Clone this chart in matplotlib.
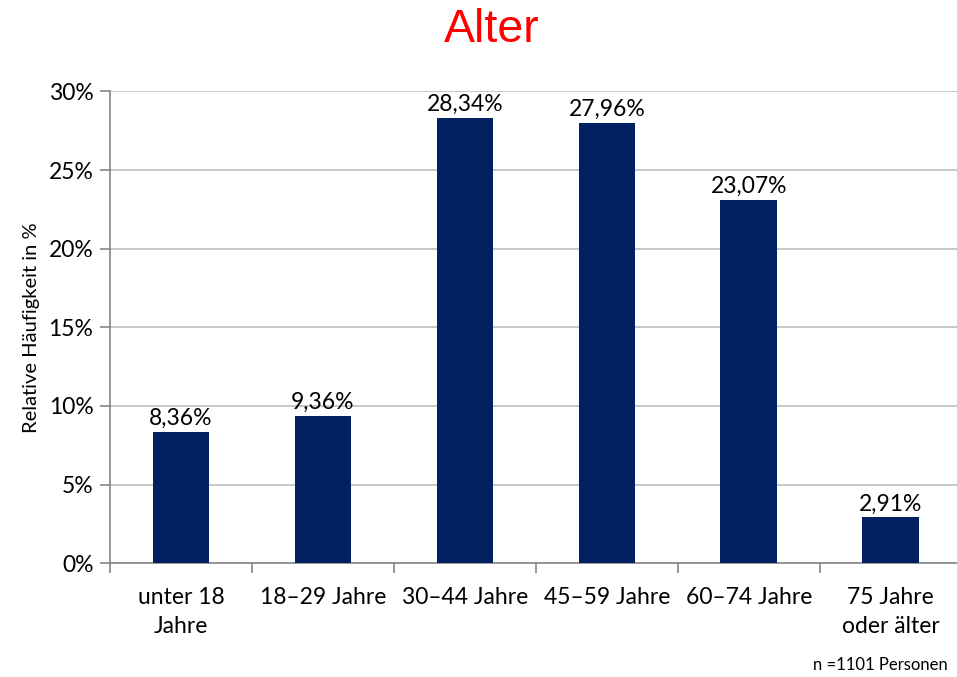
import numpy as np
import matplotlib.pyplot as plt
from matplotlib.ticker import PercentFormatter

categories = ["unter 18\nJahre", "18–29 Jahre", "30–44 Jahre", "45–59 Jahre", "60–74 Jahre", "75 Jahre\noder älter"]
values = [8.36, 9.36, 28.34, 27.96, 23.07, 2.91]
labels = ["8,36%", "9,36%", "28,34%", "27,96%", "23,07%", "2,91%"]

plt.rcParams['font.family'] = ['Lato', 'DejaVu Sans']

fig = plt.figure(figsize=(9.57, 6.77), dpi=100)
ax = fig.add_axes([0.115, 0.168, 0.890, 0.697])

x = np.arange(len(categories))
ax.bar(x, values, width=0.4, color="#002060", zorder=3)
for xi, v, lab in zip(x, values, labels):
    ax.text(xi, v + 0.2, lab, ha="center", va="bottom", fontsize=16.5)

ax.set_xlim(-0.5, len(categories) - 0.5)
ax.set_ylim(0, 30)
ax.set_yticks(np.arange(0, 31, 5))
ax.yaxis.set_major_formatter(PercentFormatter(decimals=0))
ax.set_xticks(x)
ax.set_xticklabels(categories, fontsize=16.5, linespacing=1.5)
ax.set_xticks(np.arange(-0.5, len(categories), 1), minor=True)
ax.tick_params(axis="x", which="major", length=0, pad=17)
ax.tick_params(axis="x", which="minor", length=7, color="#868686", width=1.2)
ax.tick_params(axis="y", labelsize=16.5, length=7, color="#868686", width=1.2, pad=5)
ax.grid(axis="y", color="#BFBFBF", linewidth=1.2, zorder=0)

for s in ["top", "right"]:
    ax.spines[s].set_visible(False)
for s in ["left", "bottom"]:
    ax.spines[s].set_color("#868686")
    ax.spines[s].set_linewidth(1.2)

ax.set_ylabel("Relative Häufigkeit in %", fontsize=14.5, labelpad=6)
fig.text(0.514, 0.955, "Alter", color="#FF0000", fontsize=33.5,
         ha="center", va="center", family="Liberation Sans")
fig.text(0.99, 0.006, "n =1101 Personen", fontsize=12, ha="right", va="bottom")

fig.savefig("out.png", dpi=100)
